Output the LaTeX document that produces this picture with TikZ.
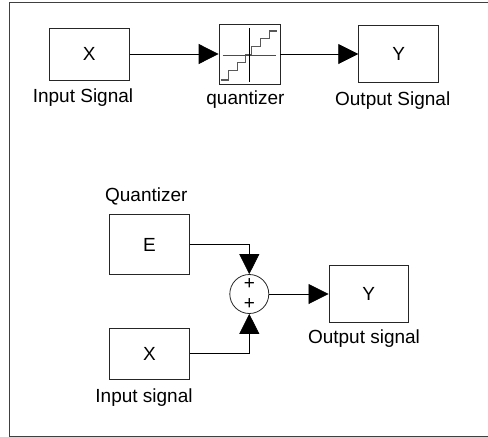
\documentclass[tikz,border=0pt]{standalone}
\usepackage{fontspec}
\setmainfont{Liberation Sans}
\usetikzlibrary{arrows.meta, calc}
\tikzstyle{block} = [rectangle, draw=black!85, line width=0.8pt, inner sep=0pt, font=\fontsize{19}{22}\selectfont]
\tikzstyle{caption} = [inner sep=0pt, anchor=base, font=\fontsize{19}{22}\selectfont]
\tikzstyle{sign} = [inner sep=0pt, font=\fontsize{19}{22}\selectfont]
\tikzstyle{arrow} = [line width=0.8pt, -{Triangle[length=20pt, width=20pt]}]
\begin{document}
\begin{tikzpicture}[x=1pt, y=-1pt]
	\useasboundingbox (0,0) rectangle (488,437);
	\draw[black!75, line width=1pt] (488,2.7) -- (9,2.7) -- (9,436) -- (488,436);
	% upper row
	\node (InputX) [block, minimum width=80pt, minimum height=52pt] at (89.3,54) {X};
	\node (Quant) [block, minimum width=61pt, minimum height=60pt] at (249.5,54) {};
	\node (OutputY) [block, minimum width=80pt, minimum height=57pt] at (398.7,54) {Y};
	\node (InputLabel) [caption] at (83,102.3) {Input Signal};
	\node (QuantLabel) [caption] at (245.5,104) {quantizer};
	\node (OutputLabel) [caption] at (392.7,105) {Output Signal};
	\draw[arrow] (InputX.east) -- (Quant.west);
	\draw[arrow] (Quant.east) -- (OutputY.west);
	% staircase in the quantizer
	\draw[line width=1.2pt, black!65] ($(Quant.center)+(-29,26)$) -- ++(8,0) -- ++(0,-9.5) -- ++(9,0) -- ++(0,-8) -- ++(8,0) -- ++(0,-7.5) -- ++(6,0) -- ++(0,-8.5) -- ++(9,0) -- ++(0,-8) -- ++(9,0) -- ++(0,-7.5) -- ++(7,0);
	\draw[line width=0.8pt, black!70] ($(Quant.center)+(-27,1.3)$) -- ++(53,0);
	\draw[line width=0.8pt] ($(Quant.center)+(0,-26)$) -- ($(Quant.center)+(0,27.7)$);
	% lower part
	\node (QuantE) [block, minimum width=80pt, minimum height=60pt] at (149.5,244.5) {E};
	\node (InputXb) [block, minimum width=80pt, minimum height=51pt] at (149.5,353.8) {X};
	\node (Sum) [draw=black!85, line width=0.8pt, circle, minimum size=39pt, inner sep=0pt] at (249.3,294) {};
	\node (PlusTop) [sign] at (249.3,283.7) {+};
	\node (PlusBottom) [sign] at (249.3,304) {+};
	\node (OutputYb) [block, minimum width=79.5pt, minimum height=56.6pt] at (368.7,294) {Y};
	\node (QuantLabelb) [caption] at (146.3,201) {Quantizer};
	\node (InputLabelb) [caption] at (144,402) {Input signal};
	\node (OutputLabelb) [caption] at (364,343) {Output signal};
	\draw[arrow] (QuantE.east) -| (Sum.north);
	\draw[arrow] (InputXb.east) -| (Sum.south);
	\draw[arrow] (Sum.east) -- (OutputYb.west);
\end{tikzpicture}
\end{document}
